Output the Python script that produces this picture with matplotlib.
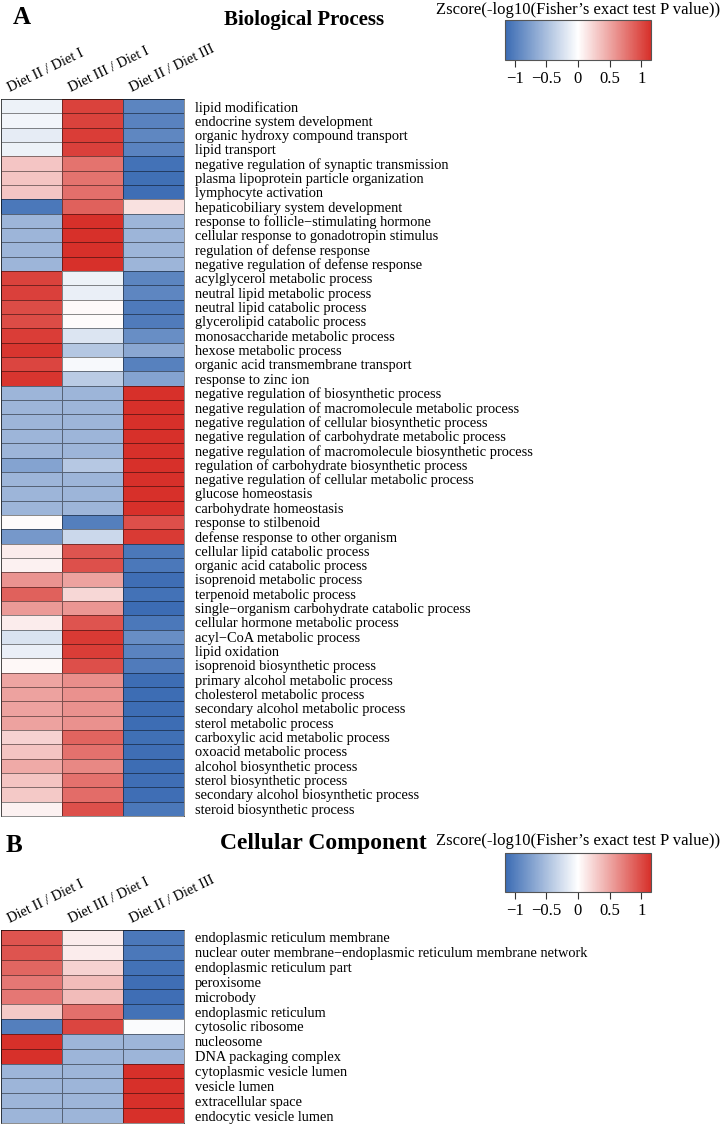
import numpy as np
import matplotlib
matplotlib.use('Agg')
import matplotlib.pyplot as plt
from matplotlib.colors import LinearSegmentedColormap, Normalize
from matplotlib.cm import ScalarMappable

plt.rcParams['font.family'] = ['Liberation Serif', 'DejaVu Serif']

columns = ["Diet II / Diet I", "Diet III / Diet I", "Diet II / Diet III"]

bp_terms = [
    "lipid modification", "endocrine system development",
    "organic hydroxy compound transport", "lipid transport",
    "negative regulation of synaptic transmission",
    "plasma lipoprotein particle organization", "lymphocyte activation",
    "hepaticobiliary system development",
    "response to follicle\u2212stimulating hormone",
    "cellular response to gonadotropin stimulus",
    "regulation of defense response", "negative regulation of defense response",
    "acylglycerol metabolic process", "neutral lipid metabolic process",
    "neutral lipid catabolic process", "glycerolipid catabolic process",
    "monosaccharide metabolic process", "hexose metabolic process",
    "organic acid transmembrane transport", "response to zinc ion",
    "negative regulation of biosynthetic process",
    "negative regulation of macromolecule metabolic process",
    "negative regulation of cellular biosynthetic process",
    "negative regulation of carbohydrate metabolic process",
    "negative regulation of macromolecule biosynthetic process",
    "regulation of carbohydrate biosynthetic process",
    "negative regulation of cellular metabolic process",
    "glucose homeostasis", "carbohydrate homeostasis",
    "response to stilbenoid", "defense response to other organism",
    "cellular lipid catabolic process", "organic acid catabolic process",
    "isoprenoid metabolic process", "terpenoid metabolic process",
    "single\u2212organism carbohydrate catabolic process",
    "cellular hormone metabolic process", "acyl\u2212CoA metabolic process",
    "lipid oxidation", "isoprenoid biosynthetic process",
    "primary alcohol metabolic process", "cholesterol metabolic process",
    "secondary alcohol metabolic process", "sterol metabolic process",
    "carboxylic acid metabolic process", "oxoacid metabolic process",
    "alcohol biosynthetic process", "sterol biosynthetic process",
    "secondary alcohol biosynthetic process", "steroid biosynthetic process",
]
bp_d2_d1 = [-0.10, -0.08, -0.15, -0.10, 0.32, 0.33, 0.32, -1.05, -0.577, -0.577,
            -0.577, -0.577, 1.05, 1.06, 1.00, 1.00, 1.08, 1.12, 1.03, 1.12,
            -0.577, -0.577, -0.577, -0.577, -0.577, -0.72, -0.577, -0.577, -0.577, 0.02,
            -0.80, 0.10, 0.08, 0.60, 0.88, 0.56, 0.10, -0.22, -0.12, 0.04,
            0.50, 0.52, 0.52, 0.52, 0.25, 0.33, 0.47, 0.33, 0.30, 0.08]
bp_d3_d1 = [1.05, 1.05, 1.08, 1.06, 0.78, 0.78, 0.80, 0.88, 1.155, 1.155,
            1.155, 1.155, -0.10, -0.12, 0.03, 0.02, -0.20, -0.44, -0.05, -0.40,
            -0.577, -0.577, -0.577, -0.577, -0.577, -0.43, -0.577, -0.577, -0.577, -1.00,
            -0.30, 0.95, 0.97, 0.52, 0.22, 0.58, 0.95, 1.10, 1.08, 0.98,
            0.63, 0.61, 0.61, 0.61, 0.86, 0.79, 0.66, 0.79, 0.82, 0.97]
bp_d2_d3 = [-0.95, -0.97, -0.93, -0.96, -1.10, -1.11, -1.12, 0.17, -0.577, -0.577,
            -0.577, -0.577, -0.95, -0.94, -1.03, -1.02, -0.88, -0.68, -0.98, -0.72,
            1.155, 1.155, 1.155, 1.155, 1.155, 1.15, 1.155, 1.155, 1.155, 0.98,
            1.10, -1.05, -1.05, -1.12, -1.10, -1.14, -1.05, -0.88, -0.96, -1.02,
            -1.13, -1.13, -1.13, -1.13, -1.11, -1.12, -1.13, -1.12, -1.12, -1.05]

cc_terms = [
    "endoplasmic reticulum membrane",
    "nuclear outer membrane\u2212endoplasmic reticulum membrane network",
    "endoplasmic reticulum part", "peroxisome", "microbody",
    "endoplasmic reticulum", "cytosolic ribosome", "nucleosome",
    "DNA packaging complex", "cytoplasmic vesicle lumen", "vesicle lumen",
    "extracellular space", "endocytic vesicle lumen",
]
cc_d2_d1 = [0.95, 0.95, 0.85, 0.75, 0.75, 0.30, -1.00, 1.155, 1.155, -0.577, -0.577, -0.577, -0.577]
cc_d3_d1 = [0.10, 0.10, 0.25, 0.37, 0.37, 0.80, 1.03, -0.577, -0.577, -0.577, -0.577, -0.577, -0.577]
cc_d2_d3 = [-1.05, -1.05, -1.10, -1.12, -1.12, -1.10, -0.03, -0.577, -0.577, 1.155, 1.155, 1.155, 1.155]

cbar_ticks = [-1, -0.5, 0, 0.5, 1]
cbar_ticklabels = ["\u22121", "\u22120.5", "0", "0.5", "1"]
cbar_label = "Zscore(-log10(Fisher\u2019s exact test P value))"

W, H = 722, 1124
fig = plt.figure(figsize=(W / 100, H / 100), dpi=100)


def ax_px(x, y, w, h):
    return fig.add_axes([x / W, 1 - (y + h) / H, w / W, h / H])


cmap = LinearSegmentedColormap.from_list('bwr_custom', ['#3A6BB3', '#FFFFFF', '#D7302A'])
zmax = 2 / np.sqrt(3)
norm = Normalize(-zmax, zmax)
edge = (0, 0, 0, 0.45)
FS = 10.4


def heatmap(ax, terms, cols, gap):
    data = np.column_stack(cols)
    ax.pcolormesh(data, cmap=cmap, norm=norm, edgecolors=edge, linewidth=0.7)
    ax.set_xlim(0, data.shape[1])
    ax.set_ylim(len(terms), 0)
    ax.set_yticks(np.arange(len(terms)) + 0.5)
    ax.set_yticklabels(terms, fontsize=FS)
    ax.yaxis.tick_right()
    ax.tick_params(axis='y', length=0, pad=8)
    ax.set_xticks([])
    for s in ax.spines.values():
        s.set_color(edge)
        s.set_linewidth(0.7)
    for j, c in enumerate(columns):
        ax.text(j + 0.14, -gap, c, rotation=26, rotation_mode='anchor',
                ha='left', va='baseline', fontsize=FS, clip_on=False)


def cbar(y_top, h):
    cax = ax_px(505, y_top, 146, h)
    cb = fig.colorbar(ScalarMappable(norm=norm, cmap=cmap), cax=cax,
                      orientation='horizontal', ticks=cbar_ticks)
    cb.ax.set_xticklabels(cbar_ticklabels)
    cb.ax.tick_params(length=5, width=0.8, labelsize=12, pad=3, color='#333333')
    cb.outline.set_edgecolor('#555555')
    cb.outline.set_linewidth(0.8)


def ftext(x, y, s, **kw):
    fig.text(x / W, 1 - y / H, s, ha='center', va='center', **kw)


# Panel A
axA = ax_px(1, 99, 183, 717)
heatmap(axA, bp_terms, [bp_d2_d1, bp_d3_d1, bp_d2_d3], 0.5)
cbar(20, 40)
ftext(22, 17, "A", fontsize=18, weight='bold')
ftext(304, 20, "Biological Process", fontsize=15, weight='bold')
ftext(578, 10, cbar_label, fontsize=12)

# Panel B
axB = ax_px(1, 930, 183, 193)
heatmap(axB, cc_terms, [cc_d2_d1, cc_d3_d1, cc_d2_d3], 0.47)
cbar(853, 39)
ftext(14, 846, "B", fontsize=18, weight='bold')
ftext(323, 844, "Cellular Component", fontsize=17, weight='bold')
ftext(578, 841, cbar_label, fontsize=12)

fig.savefig("out.png", dpi=100)
